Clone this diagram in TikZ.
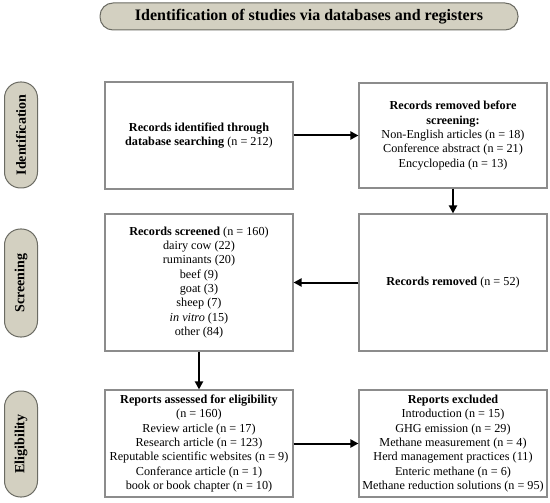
\documentclass[tikz,border=0pt]{standalone}
\usepackage{fontspec}
\setmainfont{Liberation Serif}
\usetikzlibrary{arrows.meta}
\definecolor{pillfill}{RGB}{211,208,193}
\definecolor{pilldraw}{RGB}{107,107,99}
\definecolor{boxdraw}{RGB}{140,140,140}
\tikzset{
  stagebox/.style={draw=boxdraw, line width=1.1pt, fill=white, align=center, inner sep=0pt,
    font=\fontsize{12.2}{14.3}\selectfont, minimum width=188pt},
  pill/.style={draw=pilldraw, line width=1pt, fill=pillfill, rounded corners=16pt,
    rotate=90, minimum width=106pt, minimum height=33pt, inner sep=0pt,
    font=\fontsize{14}{15}\selectfont\bfseries},
  banner/.style={draw=pilldraw, line width=1pt, fill=pillfill, rounded corners=13pt,
    minimum width=418pt, minimum height=27pt, inner sep=0pt,
    font=\fontsize{16}{17}\selectfont\bfseries},
  flow/.style={line width=2pt, -{Triangle[length=8pt,width=8pt]}}
}
\begin{document}
\begin{tikzpicture}[x=1pt,y=-1pt]
\useasboundingbox (0,0) rectangle (550,503);
\node[banner] (title) at (309,16.5) {Identification of studies via databases and registers};
\node[pill] (pid) at (21,135) {Identification};
\node[pill, minimum width=108pt] (psc) at (21,283) {Screening};
\node[pill] (pel) at (21,444) {Eligibility};

\node[stagebox, minimum height=107pt] (b1) at (199,135.5)
  {\textbf{Records identified through}\\\textbf{database searching} (n = 212)};
\node[stagebox, minimum height=105pt] (b2) at (453,135.5)
  {\textbf{Records removed before}\\\textbf{screening:}\\Non-English articles (n = 18)\\Conference abstract (n = 21)\\Encyclopedia (n = 13)};
\node[stagebox, minimum height=137pt] (b3) at (199,282.5)
  {\textbf{Records screened} (n = 160)\\dairy cow (22)\\ruminants (20)\\beef (9)\\goat (3)\\sheep (7)\\\textit{in vitro} (15)\\other (84)};
\node[stagebox, minimum height=137pt] (b4) at (453,282.5)
  {\textbf{Records removed} (n = 52)};
\node[stagebox, minimum height=107pt] (b5) at (199,443.5)
  {\textbf{Reports assessed for eligibility}\\(n = 160)\\Review article (n = 17)\\Research article (n = 123)\\Reputable scientific websites (n = 9)\\Conferance article (n = 1)\\book or book chapter (n = 10)};
\node[stagebox, minimum height=107pt] (b6) at (453,443.5)
  {\textbf{Reports excluded}\\Introduction (n = 15)\\GHG emission (n = 29)\\Methane measurement (n = 4)\\Herd management practices (11)\\Enteric methane (n = 6)\\Methane reduction solutions (n = 95)};

\draw[flow] (b1.east) -- (b2.west);
\draw[flow] (b2.south) -- (b4.north);
\draw[flow] (b4.west) -- (b3.east);
\draw[flow] (b3.south) -- (b5.north);
\draw[flow] (b5.east) -- (b6.west);
\end{tikzpicture}
\end{document}
